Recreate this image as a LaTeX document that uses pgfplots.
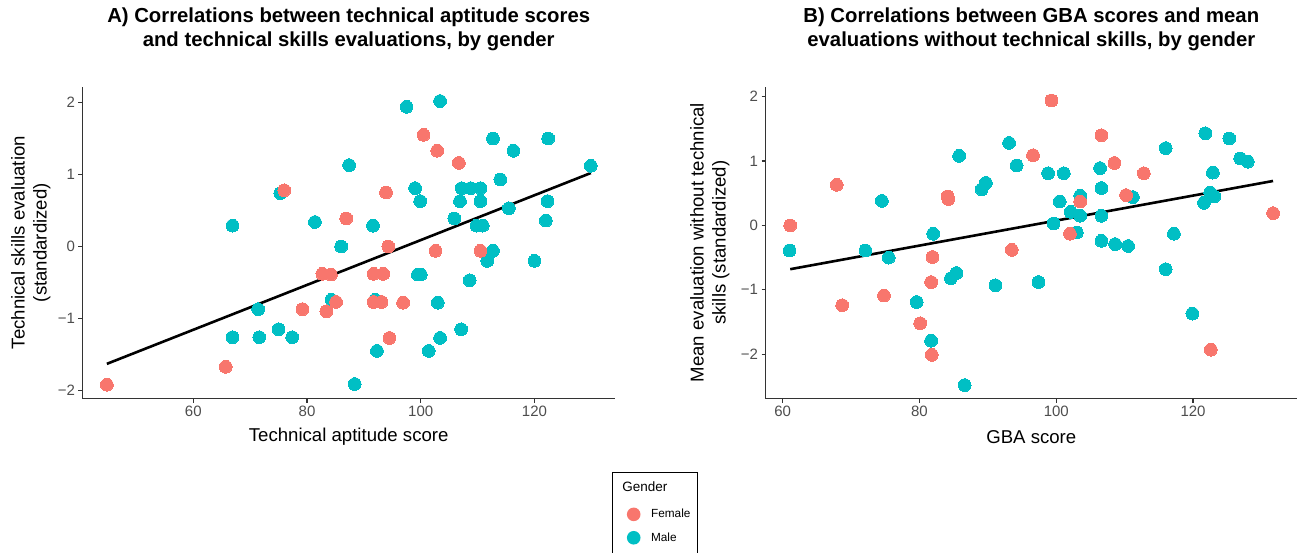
\documentclass[border=0pt]{standalone}
\usepackage{pgfplots}
\pgfplotsset{compat=1.18}
\usepackage{fontspec}
\setmainfont{Liberation Sans}
\definecolor{fem}{HTML}{F8766D}
\definecolor{mal}{HTML}{00BFC4}
\definecolor{tickgray}{HTML}{4D4D4D}
\definecolor{axgray}{HTML}{333333}

\pgfplotstableread{
x y
44.8 -1.92
65.7 -1.67
76.0 0.78
79.2 -0.87
83.4 -0.90
82.7 -0.38
84.2 -0.39
85.1 -0.77
86.9 0.39
100.5 1.55
102.9 1.33
106.7 1.16
93.9 0.75
94.3 0.00
102.6 -0.06
110.5 -0.06
91.7 -0.38
93.4 -0.38
91.7 -0.77
93.1 -0.77
96.9 -0.78
94.5 -1.27
}\femA

\pgfplotstableread{
x y
66.9 0.29
66.9 -1.26
71.4 -0.87
71.6 -1.26
75.0 -1.15
77.4 -1.26
75.3 0.74
81.4 0.34
84.3 -0.74
86.0 0.00
87.4 1.13
88.4 -1.91
97.5 1.94
103.4 2.02
112.7 1.50
122.4 1.50
116.3 1.33
129.9 1.12
99.0 0.81
99.9 0.63
107.2 0.81
108.8 0.81
110.5 0.81
106.9 0.63
110.5 0.63
114.0 0.93
122.3 0.63
115.5 0.53
122.0 0.36
105.9 0.39
109.8 0.29
110.9 0.29
91.6 0.29
112.7 -0.06
111.7 -0.20
120.0 -0.20
99.5 -0.39
100.0 -0.39
108.6 -0.47
92.0 -0.74
103.0 -0.78
107.1 -1.15
103.4 -1.27
92.3 -1.45
101.4 -1.45
}\malA

\pgfplotstableread{
x y
61.1 0.00
67.9 0.63
68.7 -1.24
74.8 -1.09
80.1 -1.52
81.8 -2.01
81.9 -0.49
81.7 -0.88
84.1 0.45
84.2 0.41
93.5 -0.38
96.6 1.09
99.3 1.94
106.6 1.40
108.5 0.97
112.8 0.81
131.7 0.19
103.5 0.37
110.2 0.47
102.0 -0.13
122.6 -1.93
}\femB

\pgfplotstableread{
x y
61.0 -0.39
74.5 0.38
72.1 -0.39
75.5 -0.50
79.6 -1.19
81.7 -1.79
86.6 -2.48
82.0 -0.13
85.8 1.08
84.6 -0.82
85.4 -0.74
91.1 -0.93
89.1 0.56
89.7 0.66
93.1 1.28
94.2 0.93
98.8 0.81
101.1 0.81
106.4 0.89
106.6 0.58
116.0 1.20
121.8 1.43
125.3 1.35
126.9 1.04
128.0 0.99
122.9 0.82
122.5 0.51
123.1 0.45
121.6 0.35
103.5 0.46
100.5 0.37
111.2 0.44
102.1 0.21
103.5 0.15
106.6 0.15
99.6 0.03
103.0 -0.11
106.6 -0.24
108.6 -0.29
110.5 -0.32
117.2 -0.13
116.0 -0.68
97.4 -0.88
119.9 -1.37
}\malB

\pgfplotsset{
  ggstyle/.style={
    scale only axis,
    axis x line*=bottom,
    axis y line*=left,
    axis line style={axgray, line width=1.2pt},
    tick align=outside,
    major tick length=4pt,
    every tick/.style={axgray, line width=1.2pt},
    ticklabel style={font=\fontsize{15}{18}\selectfont, text=tickgray},
    /pgf/number format/assume math mode=true,
    label style={font=\fontsize{18.6}{22}\selectfont, text=black},
    title style={font=\bfseries\fontsize{20.3}{24}\selectfont, align=center, anchor=center},
    xtick={60,80,100,120},
    ytick={-2,-1,0,1,2},
    yticklabels={−2,−1,0,1,2},
    clip=false,
    height=311.8pt,
  },
  femmark/.style={only marks, mark=*, mark size=6.4pt, mark options={fill=fem, draw=fem, line width=0pt}},
  malmark/.style={only marks, mark=*, mark size=6.4pt, mark options={fill=mal, draw=mal, line width=0pt}},
  legfem/.style={legend image code/.code={\path[draw=none] (-14.3pt,-11.7pt) rectangle (7pt,11.7pt);
      \fill[fem, draw=none] (0pt,0pt) circle[radius=6.8pt];}},
  legmal/.style={legend image code/.code={\path[draw=none] (-14.3pt,-30pt) rectangle (7pt,11.7pt);
      \fill[mal, draw=none] (0pt,0pt) circle[radius=6.8pt];}},
  legtitle/.style={legend image code/.code={\path[draw=none] (0pt,-15.6pt) -- (0pt,0pt);}},
}

\begin{document}
\begin{tikzpicture}[x=1pt,y=1pt]
\useasboundingbox (0,0) rectangle (1297,552);

\begin{axis}[ggstyle,
  at={(82.4pt,153.5pt)}, anchor=south west,
  width=532.6pt,
  xmin=40.5, xmax=134.16, ymin=-2.111, ymax=2.219,
  title={A) Correlations between technical aptitude scores\\and technical skills evaluations, by gender},
  title style={at={(axis description cs:0.5,1.1658)}},
  xlabel={Technical aptitude score},
  xlabel style={at={(axis description cs:0.5,-0.1225)}, anchor=center},
  ylabel={Technical skills evaluation\\(standardized)},
  ylabel style={at={(axis description cs:-0.0968,0.5)}, anchor=center, align=center},
  legend style={at={(axis description cs:0.9938,-0.2348)}, anchor=north west,
    draw=black, line width=0.8pt, font=\fontsize{11.8}{14}\selectfont,
    inner xsep=7.3pt, inner ysep=9.3pt, row sep=0pt, column sep=10.4pt,
    nodes={inner sep=0pt}},
  legend cell align=left,
]
\addplot[malmark, forget plot] table {\malA};
\addplot[femmark, forget plot] table {\femA};
\addplot[black, line width=2.6pt, forget plot] coordinates {(44.8,-1.63) (129.9,1.02)};
\addlegendimage{legtitle}
\addlegendentry{\hspace*{-28.7pt}\fontsize{13.5}{16}\selectfont Gender}
\addlegendimage{legfem}
\addlegendentry{Female}
\addlegendimage{legmal}
\addlegendentry{Male}
\end{axis}

\begin{axis}[ggstyle,
  at={(765.6pt,153.5pt)}, anchor=south west,
  width=531.4pt,
  xmin=57.5, xmax=135.2, ymin=-2.688, ymax=2.154,
  title={B) Correlations between GBA scores and mean\\evaluations without technical skills, by gender},
  title style={at={(axis description cs:0.5,1.1658)}},
  xlabel={GBA score},
  xlabel style={at={(axis description cs:0.5,-0.1225)}, anchor=center},
  ylabel={Mean evaluation without technical\\skills (standardized)},
  ylabel style={at={(axis description cs:-0.1049,0.5)}, anchor=center, align=center},
]
\addplot[malmark] table {\malB};
\addplot[femmark] table {\femB};
\addplot[black, line width=2.6pt] coordinates {(61.1,-0.68) (131.7,0.69)};
\end{axis}
\end{tikzpicture}
\end{document}
